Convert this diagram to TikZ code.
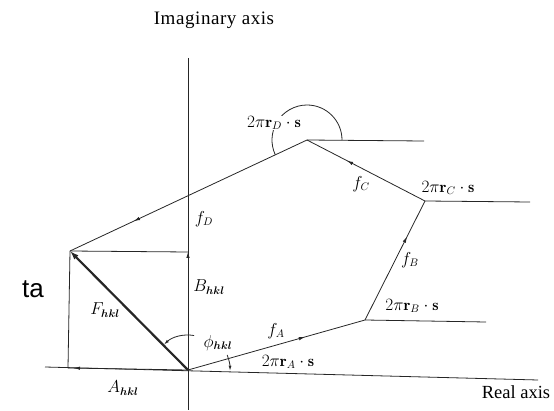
\documentclass[tikz,border=0pt]{standalone}
\usepackage{fontspec}
\usepackage{amsmath,bm}
\newfontfamily\tasans{Liberation Sans}
\newfontfamily\axisserif{Liberation Serif}
\newfontfamily\imagserif[LetterSpace=3]{Liberation Serif}
\usetikzlibrary{arrows.meta,decorations.markings,calc}
\begin{document}
\begin{tikzpicture}[x=1pt,y=1pt,
  ln/.style={line width=0.8pt, draw=black!85},
  mid/.style={postaction={decorate},decoration={markings,mark=at position #1 with {\arrow{Latex[length=6pt,width=3.5pt]}}}},
  lbl/.style={inner sep=0pt, font=\fontsize{16}{19}\selectfont},
  axlbl/.style={inner sep=0pt, font=\axisserif\fontsize{18.5}{22}\selectfont},
  tip/.style={-{Latex[length=5pt,width=3pt]}}]
\useasboundingbox (0,0) rectangle (554,410);
% key points
\coordinate (O) at (188,40);
\coordinate (P) at (70,159);
\coordinate (Q) at (188,158);
\coordinate (L) at (68,42);
\coordinate (VA) at (365,90);
\coordinate (VB) at (425,209);
\coordinate (VC) at (307,270);
\coordinate (ReL) at (45,43);
\coordinate (ReR) at (538,30);
\coordinate (ImT) at (188,352);
\coordinate (ImB) at (188,0);
\coordinate (HA) at (486,88);
\coordinate (HB) at (530,208);
\coordinate (HC) at (424,269);
% axes
\draw[ln] (ReL) -- (ReR);
\draw[ln] (ImT) -- (ImB);
% rectangle sides
\draw[ln] (L) -- (P);
\draw[ln] (P) -- (Q);
\draw[ln, mid=0.95] (O) -- (L);
\draw[ln, mid=1] (O) -- (Q);
% F_hkl
\draw[line width=2.2pt, draw=black!85, -{Latex[length=9pt,width=6pt]}] (O) -- (P);
% polygon
\draw[ln, mid=0.66] (O) -- (VA);
\draw[ln, mid=0.70] (VA) -- (VB);
\draw[ln, mid=0.66] (VB) -- (VC);
\draw[ln, mid=0.73] (VC) -- (P);
% horizontal references
\draw[ln] (VA) -- (HA);
\draw[ln] (VB) -- (HB);
\draw[ln] (VC) -- (HC);
% arcs
\draw[ln] (VC) ++(0:35) arc[start angle=0, end angle=205, radius=35];
\draw[ln, tip] (O) ++(80:35) arc[start angle=80, end angle=133, radius=35];
\draw[ln, tip] (O) ++(21:42) arc[start angle=21, end angle=-1, radius=42];
% labels
\node[inner sep=0pt, font=\imagserif\fontsize{19}{22}\selectfont] (imag) at (214,390) {Imaginary axis};
\node[axlbl] (real) at (516,18) {Real axis};
\node[lbl] (lfD) at (204,191) {$f_D$};
\node[lbl] (lB) at (209,123) {$B_{\bm{hkl}}$};
\node[lbl] (lF) at (105,100) {$F_{\bm{hkl}}$};
\node[lbl] (lphi) at (218,67) {$\phi_{\bm{hkl}}$};
\node[lbl] (lA) at (123,22) {$A_{\bm{hkl}}$};
\node[lbl] (lfA) at (276,79) {$f_A$};
\node[lbl] (lrA) at (288,48) {$2\pi\mathbf{r}_A\cdot\mathbf{s}$};
\node[lbl] (lrB) at (412,104) {$2\pi\mathbf{r}_B\cdot\mathbf{s}$};
\node[lbl] (lfB) at (410,150) {$f_B$};
\node[lbl] (lrC) at (448,222) {$2\pi\mathbf{r}_C\cdot\mathbf{s}$};
\node[lbl] (lfC) at (361,226) {$f_C$};
\node[lbl, fill=white] (lrD) at (274,287) {$2\pi\mathbf{r}_D\cdot\mathbf{s}$};
\node[inner sep=0pt, anchor=base, font=\tasans\fontsize{26}{30}\selectfont] (ta) at (33,113) {ta};
\end{tikzpicture}
\end{document}
